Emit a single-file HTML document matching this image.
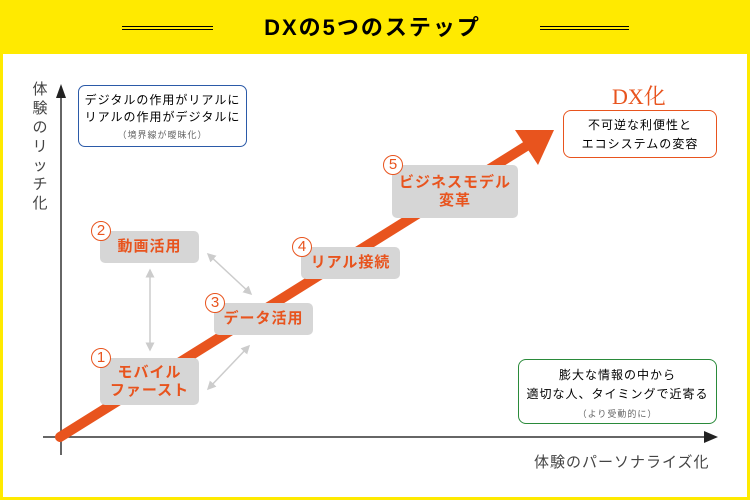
<!DOCTYPE html>
<html><head><meta charset="utf-8"><style>
body{margin:0;width:750px;height:500px;overflow:hidden;background:#fff;font-family:"Liberation Sans","Noto Sans CJK JP",sans-serif}
.a{position:absolute}
.box{position:absolute;background:#d6d6d6;border-radius:5px;color:#e8541e;font-weight:bold;font-size:15px;text-align:center;line-height:18px;display:flex;align-items:center;justify-content:center;letter-spacing:1px}
.c{position:absolute;width:18px;height:18px;border:1px solid #e8541e;border-radius:50%;background:#fff;color:#e8541e;font-size:15px;line-height:18px;text-align:center}
</style></head><body>
<div class="a" style="left:0;top:0;width:750px;height:500px;box-sizing:border-box;border:3px solid #ffea00;border-top:none"></div>
<div class="a" style="left:0;top:0;width:750px;height:54px;background:#ffea00"></div>
<div class="a" style="left:122px;top:26px;width:91px;height:2px;border-top:1px solid #000;border-bottom:1px solid #000"></div>
<div class="a" style="left:540px;top:26px;width:89px;height:2px;border-top:1px solid #000;border-bottom:1px solid #000"></div>
<div class="a" style="left:255px;top:13px;width:235px;text-align:center;font-size:22px;font-weight:bold;line-height:30px;letter-spacing:2px">DXの5つのステップ</div>

<svg class="a" style="left:0;top:0" width="750" height="500">
<defs><marker id="g" markerWidth="6" markerHeight="6" refX="5" refY="3" orient="auto-start-reverse"><path d="M0,0L6,3L0,6z" fill="#ccc"/></marker></defs>
<line x1="61" y1="95" x2="61" y2="455" stroke="#333" stroke-width="1.5"/>
<path d="M56,98L61,84L66,98z" fill="#222"/>
<line x1="43" y1="437" x2="705" y2="437" stroke="#333" stroke-width="1.5"/>
<path d="M704,431L718,437L704,443z" fill="#222"/>
<line x1="60" y1="437" x2="528" y2="145" stroke="#e8541e" stroke-width="10" stroke-linecap="round"/>
<path d="M515,130L554,130L538,165z" fill="#e8541e"/>
<line x1="150" y1="270" x2="150" y2="350" stroke="#ccc" stroke-width="1.5" marker-start="url(#g)" marker-end="url(#g)"/>
<line x1="208" y1="254" x2="251" y2="294" stroke="#ccc" stroke-width="1.5" marker-start="url(#g)" marker-end="url(#g)"/>
<line x1="249" y1="346" x2="208" y2="389" stroke="#ccc" stroke-width="1.5" marker-start="url(#g)" marker-end="url(#g)"/>
</svg>

<div class="a" style="left:30px;top:80px;width:20px;font-size:15px;line-height:19px;color:#444;text-align:center">体<br>験<br>の<br>リ<br>ッ<br>チ<br>化</div>
<div class="a" style="left:534px;top:451px;font-size:15px;color:#444;letter-spacing:1px">体験のパーソナライズ化</div>

<div class="a" style="left:78px;top:85px;width:169px;height:62px;border:1px solid #2b5aa8;border-radius:7px;text-align:center;font-size:12px;line-height:17px;padding-top:6px;box-sizing:border-box;letter-spacing:1px">デジタルの作用がリアルに<br>リアルの作用がデジタルに<br><span style="font-size:9px;color:#666">（境界線が曖昧化）</span></div>

<div class="a" style="left:612px;top:80px;font-family:'Liberation Serif','Noto Serif CJK SC',serif;font-size:22px;color:#e8541e">DX化</div>
<div class="a" style="left:563px;top:110px;width:154px;height:48px;border:1px solid #e8541e;border-radius:8px;text-align:center;font-size:12px;line-height:19px;padding-top:5px;box-sizing:border-box;letter-spacing:1px">不可逆な利便性と<br>エコシステムの変容</div>

<div class="a" style="left:518px;top:359px;width:199px;height:65px;border:1px solid #2a8a3a;border-radius:8px;text-align:center;font-size:12px;line-height:19px;padding-top:6px;box-sizing:border-box;letter-spacing:1px">膨大な情報の中から<br>適切な人、タイミングで近寄る<br><span style="font-size:9px;color:#666;line-height:12px">（より受動的に）</span></div>

<div class="box" style="left:100px;top:358px;width:99px;height:47px">モバイル<br>ファースト</div>
<div class="box" style="left:100px;top:231px;width:99px;height:32px">動画活用</div>
<div class="box" style="left:214px;top:303px;width:99px;height:32px">データ活用</div>
<div class="box" style="left:301px;top:247px;width:99px;height:32px">リアル接続</div>
<div class="box" style="left:392px;top:165px;width:126px;height:53px">ビジネスモデル<br>変革</div>
<div class="c" style="left:91px;top:348px">1</div>
<div class="c" style="left:91px;top:221px">2</div>
<div class="c" style="left:205px;top:293px">3</div>
<div class="c" style="left:292px;top:237px">4</div>
<div class="c" style="left:383px;top:155px">5</div>
</body></html>
